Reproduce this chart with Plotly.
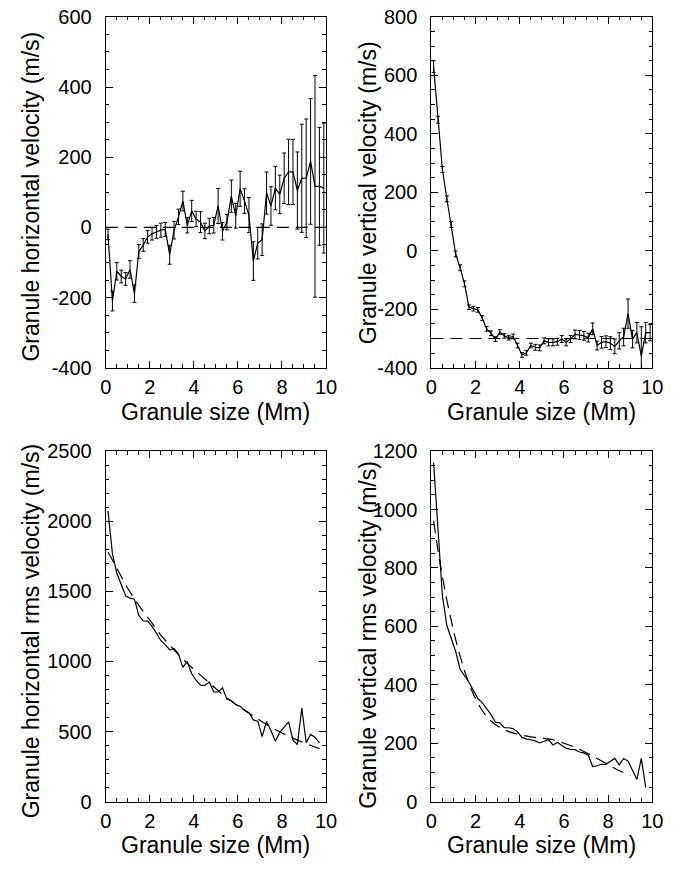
import plotly.graph_objects as go

# ---------------- data ----------------
size_top = [0.1, 0.3, 0.5, 0.7, 0.9, 1.1, 1.3, 1.5, 1.7, 1.9,
            2.1, 2.3, 2.5, 2.7, 2.9, 3.1, 3.3, 3.5, 3.7, 3.9,
            4.1, 4.3, 4.5, 4.7, 4.9, 5.1, 5.3, 5.5, 5.7, 5.9,
            6.1, 6.3, 6.5, 6.7, 6.9, 7.1, 7.3, 7.5, 7.7, 7.9,
            8.1, 8.3, 8.5, 8.7, 8.9, 9.1, 9.3, 9.5, 9.7, 9.9]

h_vel = [-20, -210, -125, -140, -147, -120, -189, -69, -50, -27,
         -18, -13, -8, -6, -78, -8, 30, 75, 6, 47,
         24, 15, -10, 4, 6, 61, -11, 15, 89, 33,
         110, 75, 35, -96, -45, -35, 98, 61, 112, 94,
         140, 158, 158, 105, 140, 140, 188, 117, 117, 112]
h_vel_err = [15, 28, 25, 18, 18, 25, 25, 20, 18, 18,
             18, 18, 20, 20, 27, 25, 22, 28, 22, 30,
             22, 30, 22, 22, 22, 50, 25, 22, 46, 35,
             50, 35, 50, 55, 45, 45, 60, 55, 62, 55,
             72, 93, 93, 110, 154, 169, 179, 316, 168, 185]

v_vel = [630, 448, 278, 178, 90, -11, -58, -113, -193, -198,
         -202, -230, -267, -282, -302, -278, -291, -297, -293, -324,
         -356, -349, -324, -330, -332, -308, -313, -313, -311, -302,
         -313, -302, -286, -288, -291, -297, -267, -324, -313, -311,
         -316, -327, -308, -295, -215, -302, -280, -360, -280, -280]
v_vel_err = [20, 12, 10, 10, 10, 10, 10, 10, 8, 8,
             8, 8, 8, 8, 8, 8, 8, 8, 8, 8,
             8, 8, 8, 10, 10, 10, 12, 12, 12, 12,
             12, 12, 15, 15, 15, 15, 20, 15, 20, 20,
             22, 25, 28, 30, 50, 30, 35, 100, 35, 28]

zero_level = 0
v_vel_level = -300

size_bottom = size_top[:49]

h_rms = [2074, 1768, 1629, 1548, 1468, 1451, 1444, 1328, 1289, 1287,
         1250, 1201, 1148, 1120, 1083, 1092, 1051, 958, 1000, 912,
         866, 831, 829, 854, 782, 782, 812, 731, 722, 692,
         680, 653, 634, 583, 574, 465, 572, 507, 431, 495,
         530, 569, 438, 408, 667, 420, 480, 460, 420]

h_rms_fit_x = [0.1, 0.5, 1.0, 1.5, 2.0, 2.5, 3.0, 3.5, 4.0, 4.5, 5.0,
               5.5, 6.0, 6.5, 7.0, 7.5, 8.0, 8.5, 9.0, 9.5, 9.7]
h_rms_fit = [1780, 1665, 1520, 1400, 1295, 1188, 1100, 1016, 944, 875, 805,
             740, 683, 630, 580, 532, 490, 453, 420, 390, 378]

v_rms = [1160, 925, 703, 603, 559, 514, 453, 431, 409, 381,
         353, 339, 320, 298, 272, 270, 253, 253, 250, 239,
         220, 214, 212, 208, 201, 206, 212, 194, 203, 192,
         183, 179, 178, 170, 167, 159, 120, 123, 128, 128,
         137, 148, 126, 148, 139, 109, 76, 148, 48]

v_rms_fit_x = [0.1, 0.3, 0.5, 0.7, 0.9, 1.1, 1.3, 1.5, 1.7, 1.9, 2.1, 2.3,
               2.5, 2.7, 2.9, 3.2, 3.5, 4.0, 4.5, 5.0, 5.5, 6.0, 6.5, 7.0,
               7.5, 8.0, 8.5, 9.0]
v_rms_fit = [960, 860, 770, 690, 620, 555, 498, 448, 405, 368, 338, 312,
             292, 276, 263, 250, 240, 229, 222, 217, 212, 200, 186, 168,
             148, 127, 106, 90]

x_ticks = [0, 2, 4, 6, 8, 10]
y1_ticks = [-400, -200, 0, 200, 400, 600]
y2_ticks = [-400, -200, 0, 200, 400, 600, 800]
y3_ticks = [0, 500, 1000, 1500, 2000, 2500]
y4_ticks = [0, 200, 400, 600, 800, 1000, 1200]

x_title = "Granule size (Mm)"
y_titles = ["Granule horizontal velocity (m/s)",
            "Granule vertical velocity (m/s)",
            "Granule horizontal rms velocity (m/s)",
            "Granule vertical rms velocity (m/s)"]

# ---------------- layout geometry ----------------
W, H = 698, 870
FONT = "Liberation Sans, Arial, Helvetica, sans-serif"
TICK_SIZE = 20
TITLE_SIZE = 23
xl = [102.3 / W, 328.0 / W]
xr = [436.0 / W, 662.5 / W]
yt = [1 - 366.0 / H, 1 - 6.0 / H]
yb = [1 - 811.2 / H, 1 - 451.5 / H]

def lab(v):
    return str(v)

def xaxis(domain, anchor):
    return dict(domain=domain, anchor=anchor, range=[0, 10],
                tickmode="array", tickvals=x_ticks, ticktext=[lab(v) for v in x_ticks],
                showline=True, linecolor="black", linewidth=1.2, mirror="ticks",
                ticks="inside", ticklen=7, tickwidth=1, tickcolor="black",
                showgrid=False, zeroline=False, ticklabelstandoff=1,
                tickfont=dict(family=FONT, size=TICK_SIZE, color="black"),
                minor=dict(tickmode="linear", tick0=0, dtick=0.5, ticks="inside",
                           ticklen=3.5, tickwidth=1, tickcolor="black", showgrid=False))

def yaxis(domain, anchor, rng, tv, mdt):
    return dict(domain=domain, anchor=anchor, range=rng,
                tickmode="array", tickvals=tv, ticktext=[lab(v) for v in tv],
                showline=True, linecolor="black", linewidth=1.2, mirror="ticks",
                ticks="inside", ticklen=7, tickwidth=1, tickcolor="black",
                showgrid=False, zeroline=False, ticklabelstandoff=9,
                tickfont=dict(family=FONT, size=TICK_SIZE, color="black"),
                minor=dict(tickmode="linear", tick0=0, dtick=mdt, ticks="inside",
                           ticklen=3.5, tickwidth=1, tickcolor="black", showgrid=False))

fig = go.Figure()
solid = dict(color="black", width=1.2)
dashed = dict(color="black", width=1.2, dash="12px,7px")
eb = lambda arr: dict(type="data", array=arr, visible=True, color="black", thickness=1, width=2)

# panel 1
fig.add_trace(go.Scatter(x=[0, 10], y=[zero_level, zero_level], mode="lines", line=dashed,
                         xaxis="x", yaxis="y", showlegend=False, hoverinfo="skip"))
fig.add_trace(go.Scatter(x=size_top, y=h_vel, error_y=eb(h_vel_err), mode="lines", line=solid,
                         xaxis="x", yaxis="y", showlegend=False))
# panel 2
fig.add_trace(go.Scatter(x=[0, 10], y=[v_vel_level, v_vel_level], mode="lines", line=dashed,
                         xaxis="x2", yaxis="y2", showlegend=False, hoverinfo="skip"))
fig.add_trace(go.Scatter(x=size_top, y=v_vel, error_y=eb(v_vel_err), mode="lines", line=solid,
                         xaxis="x2", yaxis="y2", showlegend=False))
# panel 3
fig.add_trace(go.Scatter(x=h_rms_fit_x, y=h_rms_fit, mode="lines", line=dashed,
                         line_shape="spline", xaxis="x3", yaxis="y3", showlegend=False))
fig.add_trace(go.Scatter(x=size_bottom, y=h_rms, mode="lines", line=solid,
                         xaxis="x3", yaxis="y3", showlegend=False))
# panel 4
fig.add_trace(go.Scatter(x=v_rms_fit_x, y=v_rms_fit, mode="lines", line=dashed,
                         line_shape="spline", xaxis="x4", yaxis="y4", showlegend=False))
fig.add_trace(go.Scatter(x=size_bottom, y=v_rms, mode="lines", line=solid,
                         xaxis="x4", yaxis="y4", showlegend=False))

fig.update_layout(
    width=W, height=H, margin=dict(l=0, r=0, t=0, b=0),
    paper_bgcolor="white", plot_bgcolor="white",
    font=dict(family=FONT, color="black"),
    xaxis=xaxis(xl, "y"), yaxis=yaxis(yt, "x", [-400, 600], y1_ticks, 50),
    xaxis2=xaxis(xr, "y2"), yaxis2=yaxis(yt, "x2", [-400, 800], y2_ticks, 50),
    xaxis3=xaxis(xl, "y3"), yaxis3=yaxis(yb, "x3", [0, 2500], y3_ticks, 100),
    xaxis4=xaxis(xr, "y4"), yaxis4=yaxis(yb, "x4", [0, 1200], y4_ticks, 50),
)

TF = dict(family=FONT, size=TITLE_SIZE, color="black")
ann = []
# x titles
for cx, cy in [((102.3 + 328) / 2, 411), ((436 + 662.5) / 2, 411),
               ((102.3 + 328) / 2, 856), ((436 + 662.5) / 2, 856)]:
    ann.append(dict(text=x_title, x=cx / W, y=1 - cy / H, xref="paper", yref="paper",
                    showarrow=False, font=TF, xanchor="center", yanchor="middle"))
# y titles
for t, cx, cy in zip(y_titles, [26, 371, 26, 371], [190, 186, 636, 640]):
    ann.append(dict(text=t, x=cx / W, y=1 - cy / H, xref="paper", yref="paper",
                    showarrow=False, font=TF, textangle=-90, xanchor="center", yanchor="middle"))
fig.update_layout(annotations=ann)

fig.write_html("out.html")
